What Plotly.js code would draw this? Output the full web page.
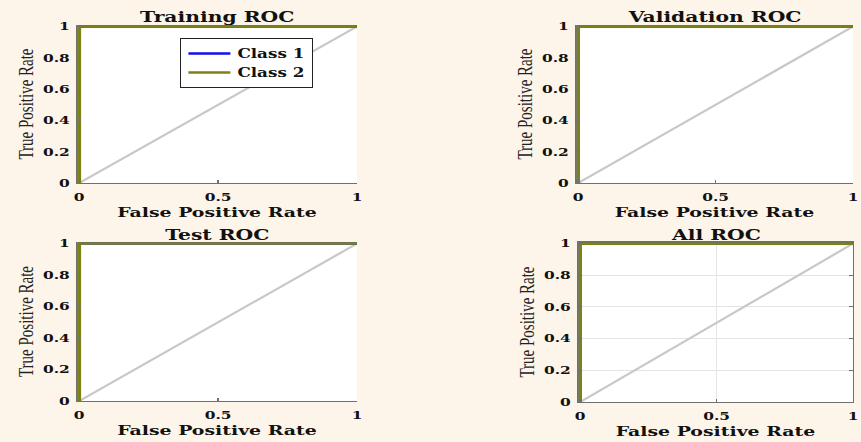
<!DOCTYPE html>
<html><head><meta charset="utf-8">
<script src="https://cdn.plot.ly/plotly-3.0.1.min.js"></script>
<style>
html,body{margin:0;padding:0;background:#fdf5ea;overflow:hidden;width:861px;height:442px}
#wrap{width:861px;height:442px;overflow:hidden;position:relative}
#chart{width:615px;height:442px;transform:scaleX(1.4);transform-origin:0 0}
</style></head><body><div id="wrap"><div id="chart"></div></div>
<script>
// ---- data ----
const panelTitles = ['Training ROC', 'Validation ROC', 'Test ROC', 'All ROC'];
const classNames = ['Class 1', 'Class 2'];
const fprClass1 = [[0, 0, 1], [0, 0, 1], [0, 0, 1], [0, 0, 1]];
const tprClass1 = [[0, 1, 1], [0, 1, 1], [0, 1, 1], [0, 1, 1]];
const fprClass2 = [[0, 0, 1], [0, 0, 1], [0, 0, 1], [0, 0, 1]];
const tprClass2 = [[0, 1, 1], [0, 1, 1], [0, 1, 1], [0, 1, 1]];
const chanceX = [0, 1];
const chanceY = [0, 1];
const xTickVals = [0, 0.5, 1];
const xTickText = ['0', '0.5', '1'];
const yTickVals = [0, 0.2, 0.4, 0.6, 0.8, 1];
const yTickText = ['0', '0.2', '0.4', '0.6', '0.8', '1'];
const xTitle = 'False Positive Rate';
const yTitle = 'True Positive Rate';

// ---- styling ----
const W = 861, H = 442;
const BOLD = {family: 'DejaVu Serif', weight: 'bold', color: '#111'};
const colors = ['#1010ee', '#7d8214'];
const axisGray = '#707070';
const px = (a, b) => [a / W, b / W];
const py = (top, bottom) => [1 - bottom / H, 1 - top / H];
const xDomains = [px(77, 357), px(576, 853), px(77, 357), px(578, 853)];
const yDomains = [py(25, 183), py(25, 183), py(242, 401), py(242, 402)];
const titleY = [17, 17, 234, 234];

const traces = [];
const layout = {
  width: 615, height: 442,
  paper_bgcolor: '#fdf5ea', plot_bgcolor: '#ffffff',
  margin: {l: 0, r: 0, t: 0, b: 0},
  showlegend: true,
  legend: {
    x: 180 / W, y: 1 - 38 / H, xanchor: 'left', yanchor: 'top',
    bgcolor: '#ffffff', bordercolor: '#222', borderwidth: 1,
    font: Object.assign({}, BOLD, {size: 12}), tracegroupgap: 0
  },
  annotations: []
};

for (let p = 0; p < 4; p++) {
  const sfx = p === 0 ? '' : String(p + 1);
  const xa = 'x' + sfx, ya = 'y' + sfx;
  traces.push({x: chanceX, y: chanceY, xaxis: xa, yaxis: ya, mode: 'lines',
    line: {color: '#c8c8c8', width: 2}, showlegend: false, hoverinfo: 'skip'});
  traces.push({x: fprClass1[p], y: tprClass1[p], xaxis: xa, yaxis: ya, mode: 'lines',
    name: classNames[0], line: {color: colors[0], width: 2.6}, showlegend: p === 0});
  traces.push({x: fprClass2[p], y: tprClass2[p], xaxis: xa, yaxis: ya, mode: 'lines',
    name: classNames[1], line: {color: colors[1], width: 2.6}, showlegend: p === 0});
  const isAll = p === 3;
  layout['xaxis' + sfx] = {
    domain: xDomains[p], anchor: ya, range: [-0.008, 1], fixedrange: true,
    tickvals: xTickVals, ticktext: xTickText, ticks: 'inside', ticklen: 3, tickcolor: axisGray,
    showline: true, linecolor: axisGray, linewidth: 1, mirror: isAll ? 'ticks' : false,
    showgrid: isAll, gridcolor: '#e4e4e4', zeroline: false,
    tickfont: Object.assign({}, BOLD, {size: 11}), ticklabelstandoff: 4,
    title: {text: xTitle, font: Object.assign({}, BOLD, {size: 13.5}), standoff: 3}
  };
  layout['yaxis' + sfx] = {
    domain: yDomains[p], anchor: xa, range: [0, 1.01], fixedrange: true,
    tickvals: yTickVals, ticktext: yTickText, ticks: 'inside', ticklen: 3, tickcolor: axisGray,
    showline: true, linecolor: axisGray, linewidth: 1, mirror: isAll ? 'ticks' : false,
    showgrid: isAll, gridcolor: '#e4e4e4', zeroline: false,
    tickfont: Object.assign({}, BOLD, {size: 11}), ticklabelstandoff: 2,
    title: {text: yTitle, font: {family: 'Liberation Serif', size: 15, color: '#222'}, standoff: 2}
  };
  layout.annotations.push({
    text: panelTitles[p], xref: xa + ' domain', x: 0.5, yref: 'paper', y: 1 - titleY[p] / H,
    xanchor: 'center', yanchor: 'middle', showarrow: false,
    font: Object.assign({}, BOLD, {size: 14.5})
  });
}

Plotly.newPlot('chart', traces, layout, {displayModeBar: false, staticPlot: true});
</script></body></html>
